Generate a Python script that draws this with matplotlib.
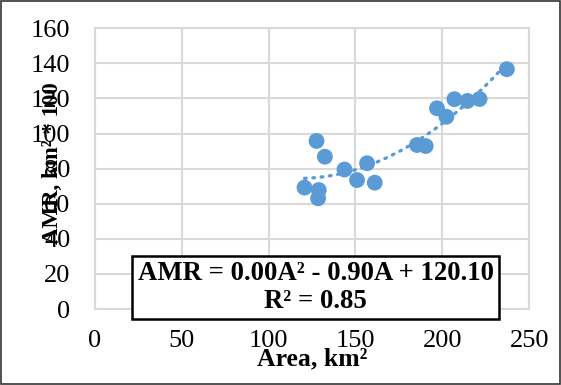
import matplotlib.pyplot as plt
import matplotlib.patches as mpatches
import numpy as np

plt.rcParams['font.family'] = ['Liberation Serif', 'DejaVu Serif']

# data (Area, km2 vs AMR)
area = [237.1, 221.4, 214.4, 206.9, 196.9, 202.3, 190.4, 185.4, 156.7,
        143.7, 150.9, 161.1, 127.6, 132.4, 120.7, 128.9, 128.5]
amr = [136.7, 119.7, 118.6, 119.6, 114.4, 109.6, 92.9, 93.5, 83.1,
       79.5, 73.5, 72.0, 95.8, 86.8, 69.2, 67.8, 63.1]
xticks = [0, 50, 100, 150, 200, 250]
yticks = [0, 20, 40, 60, 80, 100, 120, 140, 160]
eq_text = 'AMR = 0.00A² - 0.90A + 120.10\nR² = 0.85'

blue = '#5B9BD5'
grid = '#D9D9D9'

fig = plt.figure(figsize=(5.61, 3.85), dpi=100)
ax = fig.add_axes([0.1688, 0.1974, 0.7747, 0.7291])

# polynomial trendline (order 2)
coef = np.polyfit(area, amr, 2)
xs = np.linspace(min(area), max(area), 100)
ax.plot(xs, np.polyval(coef, xs), color=blue, lw=2.4, ls=(0, (0.5, 2.0)),
        dash_capstyle='round', zorder=2)
ax.scatter(area, amr, s=130, color=blue, edgecolors='none', zorder=3)

ax.set_xlim(0, 250)
ax.set_ylim(0, 160)
ax.set_xticks(xticks)
ax.set_yticks(yticks)
ax.tick_params(length=0, labelsize=19, colors='black')
ax.tick_params(axis='y', pad=17.5)
ax.tick_params(axis='x', pad=15)
ax.grid(True, color=grid, lw=1.5)
ax.set_axisbelow(True)
for s in ax.spines.values():
    s.set_color(grid)
    s.set_linewidth(1.5)

ax.set_xlabel('Area, km²', fontsize=18.5, fontweight='bold', labelpad=-3)
fig.text(0.094, 0.577, 'AMR, km² * 100', rotation=90, fontsize=16.5,
         fontweight='bold', ha='center', va='center')

fig.text(0.563, 0.253, eq_text, fontsize=19.3, fontweight='bold',
         ha='center', va='center', linespacing=1.15,
         bbox=dict(boxstyle='square,pad=0.2', fc='white', ec='black', lw=1.8))

fig.patches.append(mpatches.Rectangle((0.002, 0.003), 0.996, 0.994,
                                      transform=fig.transFigure, fill=False,
                                      ec='#333333', lw=1.2))

plt.savefig('out.png', dpi=100)
